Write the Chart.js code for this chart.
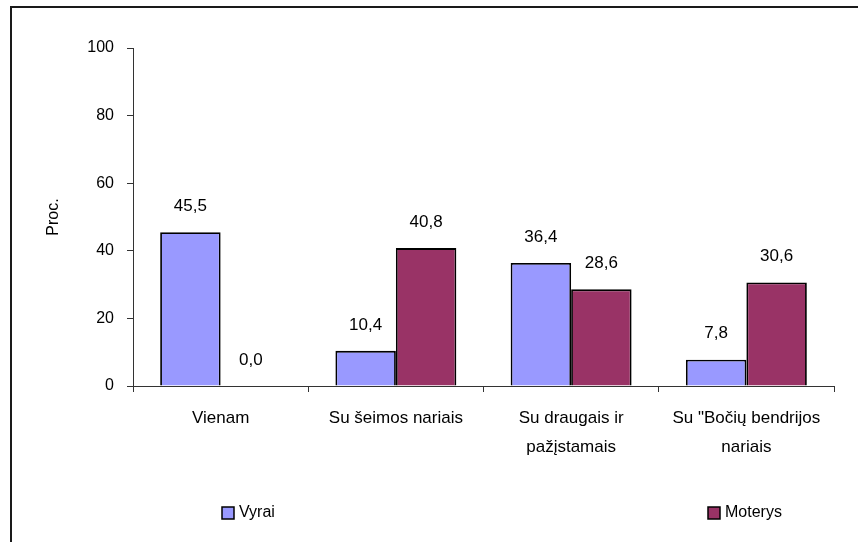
<!DOCTYPE html>
<html>
<head>
<meta charset="utf-8">
<script src="https://cdn.jsdelivr.net/npm/chart.js@4/dist/chart.umd.min.js"></script>
<style>
  html, body { margin: 0; padding: 0; background: #fff; }
  #wrap { width: 858px; height: 542px; position: relative; }
</style>
</head>
<body>
<div id="wrap"><canvas id="c" width="858" height="542"></canvas></div>
<script>
const categories = ["Vienam", ["Su šeimos nariais"], ["Su draugais ir", "pažįstamais"], ["Su \"Bočių bendrijos", "nariais"]];
const seriesNames = ["Vyrai", "Moterys"];
const vyrai = [45.5, 10.4, 36.4, 7.8];
const moterys = [0.0, 40.8, 28.6, 30.6];
const yTicks = [0, 20, 40, 60, 80, 100];
const colors = ["#9999FF", "#993366"];

const FONT = "'Liberation Sans', Arial, sans-serif";

const framePlugin = {
  id: 'frame',
  beforeDraw(chart) {
    const ctx = chart.ctx;
    ctx.save();
    ctx.strokeStyle = '#1a1a1a';
    ctx.lineWidth = 2;
    ctx.beginPath();
    ctx.moveTo(11, chart.height);
    ctx.lineTo(11, 7);
    ctx.lineTo(chart.width, 7);
    ctx.stroke();
    ctx.restore();
  }
};

const valueLabels = {
  id: 'valueLabels',
  afterDatasetsDraw(chart) {
    const ctx = chart.ctx;
    ctx.save();
    ctx.font = '17px ' + FONT;
    ctx.fillStyle = '#000';
    ctx.textAlign = 'center';
    ctx.textBaseline = 'middle';
    chart.data.datasets.forEach((ds, di) => {
      chart.getDatasetMeta(di).data.forEach((bar, i) => {
        const v = ds.data[i];
        ctx.fillText(v.toFixed(1).replace('.', ','), bar.x, bar.y - 26);
      });
    });
    ctx.restore();
  }
};

const customLegend = {
  id: 'customLegend',
  afterDraw(chart) {
    const ctx = chart.ctx;
    const a = chart.chartArea;
    const y = 513;
    const xs = [a.left + 89, a.right - 126];
    ctx.save();
    ctx.font = '16px ' + FONT;
    ctx.textBaseline = 'middle';
    ctx.textAlign = 'left';
    chart.data.datasets.forEach((ds, i) => {
      const x = xs[i];
      ctx.fillStyle = ds.backgroundColor;
      ctx.fillRect(x, y - 6, 12, 12);
      ctx.strokeStyle = '#000';
      ctx.lineWidth = 1.5;
      ctx.strokeRect(x, y - 6, 12, 12);
      ctx.fillStyle = '#000';
      ctx.fillText(ds.label, x + 17, y);
    });
    ctx.restore();
  }
};

new Chart(document.getElementById('c'), {
  type: 'bar',
  data: {
    labels: categories,
    datasets: [
      { label: seriesNames[0], data: vyrai, backgroundColor: colors[0], borderColor: '#000', borderWidth: 1.8 },
      { label: seriesNames[1], data: moterys, backgroundColor: colors[1], borderColor: '#000', borderWidth: 1.8 }
    ]
  },
  options: {
    responsive: false,
    animation: false,
    events: [],
    layout: { padding: { top: 48, right: 24, left: 0, bottom: 0 } },
    datasets: { bar: { categoryPercentage: 0.69, barPercentage: 1.0 } },
    plugins: { legend: { display: false }, tooltip: { enabled: false } },
    scales: {
      x: {
        afterFit(scale) { scale.height = 156; },
        grid: { display: true, drawOnChartArea: false, offset: true, tickLength: 6, color: '#333', lineWidth: 1 },
        border: { display: true, color: '#333', width: 1 },
        ticks: { color: '#000', font: { family: FONT, size: 17, lineHeight: 1.706 }, padding: 11.5, maxRotation: 0, autoSkip: false }
      },
      y: {
        min: 0, max: 100,
        afterFit(scale) { scale.width = 133; },
        afterBuildTicks(scale) { scale.ticks = yTicks.map(v => ({ value: v })); },
        grid: { display: true, drawOnChartArea: false, tickLength: 6, color: '#333', lineWidth: 1 },
        border: { display: true, color: '#333', width: 1 },
        ticks: { color: '#000', font: { family: FONT, size: 16 }, padding: 13 },
        title: { display: true, text: 'Proc.', color: '#000', font: { family: FONT, size: 16 }, padding: { top: 44, bottom: 0 } }
      }
    }
  },
  plugins: [framePlugin, valueLabels, customLegend]
});
</script>
</body>
</html>
